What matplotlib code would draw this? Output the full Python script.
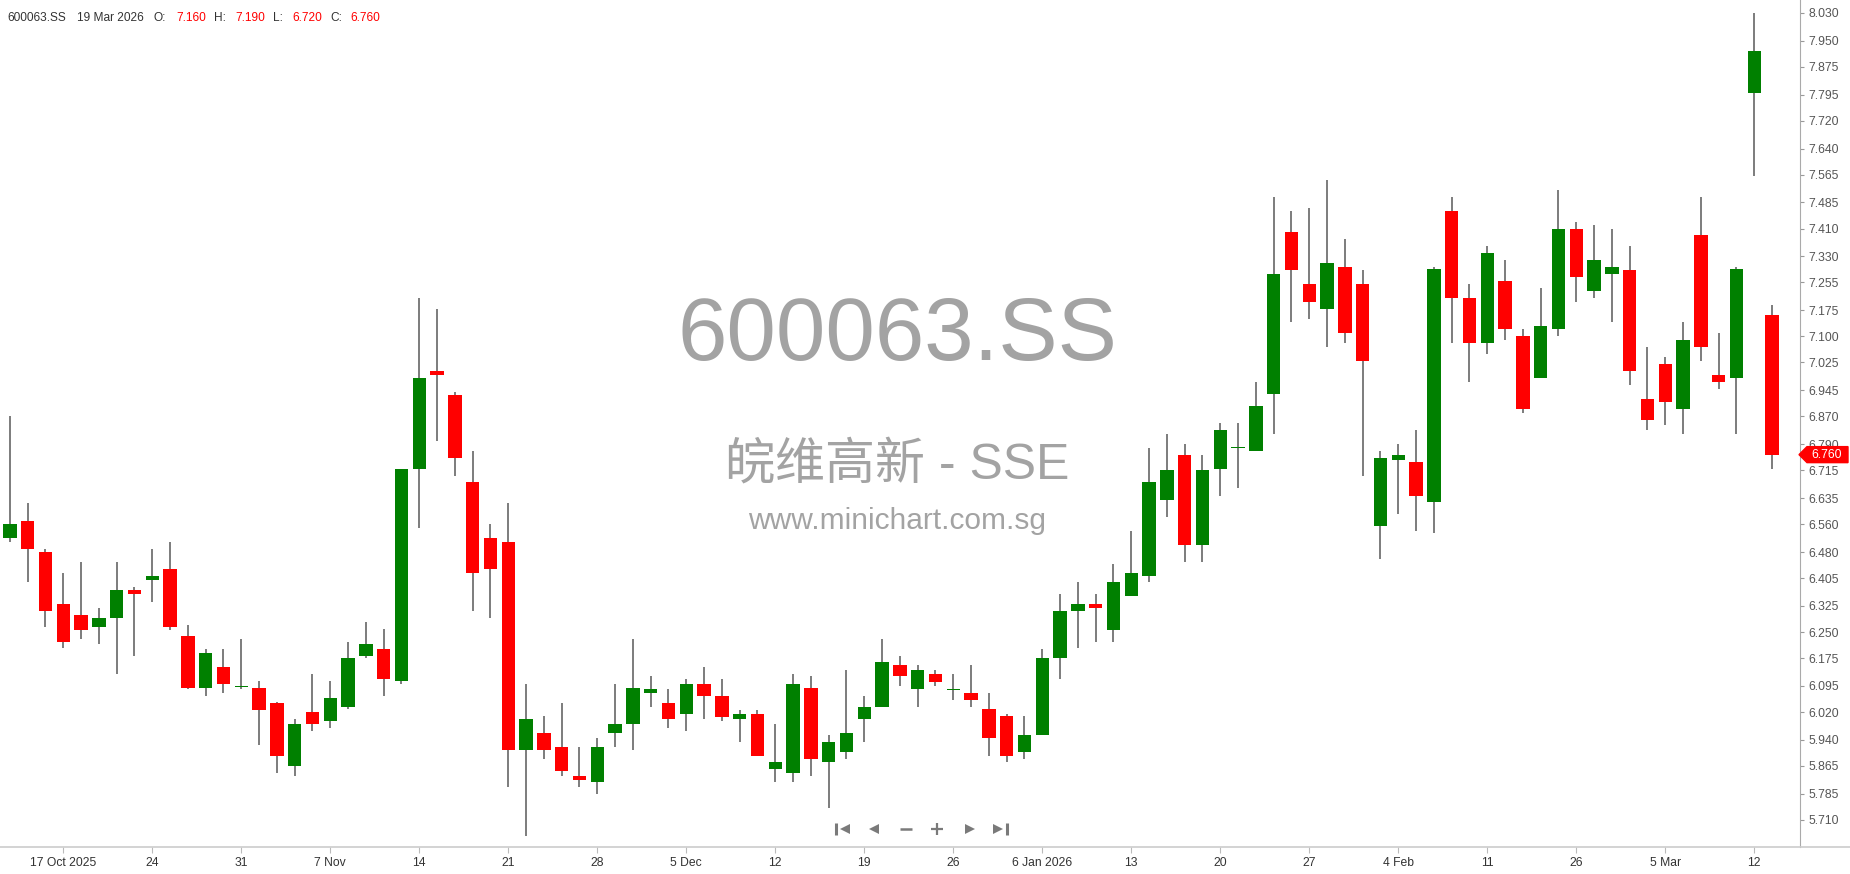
import numpy as np
import pandas as pd
import matplotlib
matplotlib.use('Agg')
import matplotlib.pyplot as plt
import matplotlib.transforms as mtransforms
from matplotlib.patches import Polygon
from matplotlib.lines import Line2D


symbol = '600063.SS'
name_cn = '皖维高新 - SSE'
site = 'www.minichart.com.sg'

# trading calendar: weekdays between these, minus the closed days
first_day = '2025-10-14'
last_day = '2026-03-19'
closed_days = ['2026-01-01', '2026-01-02', '2026-01-30',
               '2026-02-16', '2026-02-17', '2026-02-18', '2026-02-19',
               '2026-02-20', '2026-02-23',
               '2026-03-13', '2026-03-16', '2026-03-17', '2026-03-18']

opens = [6.52, 6.57, 6.48, 6.33, 6.30, 6.265, 6.29, 6.37, 6.40, 6.43,
         6.24, 6.09, 6.15, 6.092, 6.09, 6.045, 5.865, 6.02, 5.995, 6.035,
         6.18, 6.20, 6.11, 6.72, 7.00, 6.93, 6.68, 6.52, 6.51, 5.91,
         5.96, 5.92, 5.835, 5.82, 5.96, 5.985, 6.075, 6.045, 6.015, 6.10,
         6.065, 6.00, 6.015, 5.855, 5.845, 6.09, 5.875, 5.905, 6.00, 6.035,
         6.155, 6.085, 6.13, 6.083, 6.075, 6.03, 6.01, 5.905, 5.955, 6.175,
         6.31, 6.33, 6.255, 6.355, 6.41, 6.63, 6.76, 6.50, 6.72, 6.778,
         6.77, 6.935, 7.40, 7.25, 7.18, 7.30, 7.25, 6.555, 6.745, 6.74,
         6.625, 7.46, 7.21, 7.08, 7.26, 7.10, 6.98, 7.12, 7.41, 7.23,
         7.28, 7.29, 6.92, 7.02, 6.89, 7.39, 6.99, 6.98, 7.80, 7.16]

highs = [6.87, 6.62, 6.49, 6.42, 6.45, 6.32, 6.45, 6.38, 6.49, 6.51,
         6.27, 6.20, 6.20, 6.23, 6.11, 6.05, 6.00, 6.13, 6.11, 6.22,
         6.28, 6.26, 6.72, 7.21, 7.18, 6.94, 6.77, 6.56, 6.62, 6.10,
         6.01, 6.045, 5.92, 5.945, 6.10, 6.23, 6.125, 6.085, 6.115, 6.15,
         6.115, 6.025, 6.025, 5.985, 6.13, 6.125, 5.955, 6.14, 6.065, 6.23,
         6.18, 6.155, 6.14, 6.13, 6.155, 6.075, 6.015, 6.01, 6.20, 6.36,
         6.395, 6.36, 6.445, 6.54, 6.78, 6.82, 6.79, 6.76, 6.85, 6.85,
         6.97, 7.50, 7.46, 7.47, 7.55, 7.38, 7.29, 6.77, 6.79, 6.83,
         7.30, 7.50, 7.25, 7.36, 7.32, 7.12, 7.24, 7.52, 7.43, 7.42,
         7.41, 7.36, 7.07, 7.04, 7.14, 7.50, 7.11, 7.30, 8.03, 7.19]

lows = [6.51, 6.395, 6.265, 6.205, 6.23, 6.215, 6.13, 6.18, 6.335, 6.255,
        6.085, 6.065, 6.075, 6.085, 5.925, 5.845, 5.835, 5.965, 5.975, 6.03,
        6.175, 6.065, 6.10, 6.55, 6.80, 6.70, 6.31, 6.29, 5.805, 5.665,
        5.885, 5.835, 5.805, 5.785, 5.92, 5.91, 6.035, 5.975, 5.965, 6.00,
        5.995, 5.935, 5.895, 5.82, 5.82, 5.835, 5.745, 5.885, 5.935, 6.035,
        6.095, 6.035, 6.095, 6.055, 6.035, 5.895, 5.875, 5.885, 5.955, 6.115,
        6.205, 6.22, 6.22, 6.355, 6.395, 6.58, 6.45, 6.45, 6.64, 6.665,
        6.77, 6.82, 7.14, 7.15, 7.07, 7.08, 6.70, 6.46, 6.59, 6.54,
        6.535, 7.08, 6.97, 7.05, 7.09, 6.88, 6.98, 7.10, 7.20, 7.21,
        7.14, 6.96, 6.83, 6.845, 6.82, 7.03, 6.95, 6.82, 7.56, 6.72]

closes = [6.56, 6.49, 6.31, 6.22, 6.255, 6.29, 6.37, 6.36, 6.41, 6.265,
          6.09, 6.19, 6.10, 6.095, 6.025, 5.895, 5.985, 5.985, 6.06, 6.175,
          6.215, 6.115, 6.72, 6.98, 6.99, 6.75, 6.42, 6.43, 5.91, 6.00,
          5.91, 5.85, 5.825, 5.92, 5.985, 6.09, 6.085, 6.00, 6.10, 6.065,
          6.005, 6.015, 5.895, 5.875, 6.10, 5.885, 5.935, 5.96, 6.035, 6.165,
          6.125, 6.14, 6.105, 6.087, 6.055, 5.945, 5.895, 5.955, 6.175, 6.31,
          6.33, 6.32, 6.395, 6.42, 6.68, 6.715, 6.50, 6.715, 6.83, 6.782,
          6.90, 7.28, 7.29, 7.20, 7.31, 7.11, 7.03, 6.75, 6.76, 6.64,
          7.295, 7.21, 7.08, 7.34, 7.12, 6.89, 7.13, 7.41, 7.27, 7.32,
          7.30, 7.00, 6.86, 6.91, 7.09, 7.07, 6.97, 7.295, 7.92, 6.76]

price_labels = ['5.710', '5.785', '5.865', '5.940', '6.020', '6.095', '6.175',
                '6.250', '6.325', '6.405', '6.480', '6.560', '6.635', '6.715',
                '6.790', '6.870', '6.945', '7.025', '7.100', '7.175', '7.255',
                '7.330', '7.410', '7.485', '7.565', '7.640', '7.720', '7.795',
                '7.875', '7.950', '8.030']

W, H = 1850, 874
UP = '#008000'
DOWN = '#ff0000'
FONT = 'Liberation Sans'


def main():
  dates = pd.bdate_range(first_day, last_day)
  dates = dates[~dates.isin(pd.to_datetime(closed_days))]

  o = np.array(opens)
  h = np.array(highs)
  l = np.array(lows)
  c = np.array(closes)
  x = np.arange(len(dates))

  fig = plt.figure(figsize=(W / 100, H / 100), dpi=100)
  fig.patch.set_facecolor('white')
  ax = fig.add_axes([0, 27 / H, 1800 / W, 847 / H])
  ax.set_xlim(-0.556, 100.57)
  ax.set_ylim(5.632, 8.067)

  ####################################
  # candles
  ax.vlines(x, l, h, color='#666666', linewidth=1.2, zorder=2)
  up = c >= o
  bottom = np.minimum(o, c)
  height = np.maximum(np.abs(c - o), 0.004)
  ax.bar(x, height, bottom=bottom, width=0.75,
         color=np.where(up, UP, DOWN), edgecolor='none', zorder=3)

  ####################################
  # watermark
  ax.text(897 / W, 1 - 337 / H, symbol, transform=fig.transFigure,
          ha='center', va='center', fontsize=64, color='#a3a3a3',
          family=FONT, zorder=1)
  ax.text(897 / W, 1 - 465 / H, name_cn, transform=fig.transFigure,
          ha='center', va='center', fontsize=36, color='#a3a3a3',
          family=[FONT, 'Noto Sans CJK SC'], zorder=1)
  ax.text(897 / W, 1 - 521 / H, site, transform=fig.transFigure,
          ha='center', va='center', fontsize=21.5, color='#a3a3a3',
          family=FONT, zorder=1)

  ####################################
  # axes
  for side in ['top', 'left', 'bottom']:
    ax.spines[side].set_visible(False)
  ax.spines['right'].set_color('#aaaaaa')
  fig.add_artist(Line2D([0, 1], [27 / H, 27 / H], color='#cccccc',
                        linewidth=1.2, transform=fig.transFigure))

  ax.yaxis.tick_right()
  ax.set_yticks([float(s) for s in price_labels])
  ax.set_yticklabels(price_labels)
  ax.tick_params(axis='y', direction='out', length=3, width=0.8,
                 color='#999999', labelcolor='#555555', labelsize=8.8, pad=3)

  tick_idx = x[3::5]
  tick_text = []
  prev = None
  for i in tick_idx:
    d = dates[i]
    if prev is None or d.year != prev.year:
      tick_text.append('{} {} {}'.format(d.day, d.strftime('%b'), d.year))
    elif d.month != prev.month:
      tick_text.append('{} {}'.format(d.day, d.strftime('%b')))
    else:
      tick_text.append(str(d.day))
    prev = d
  ax.set_xticks(tick_idx)
  ax.set_xticklabels(tick_text)
  ax.tick_params(axis='x', direction='out', length=4, width=0.8,
                 color='#bbbbbb', labelcolor='#333333', labelsize=8.7, pad=3)
  for t in ax.get_xticklabels() + ax.get_yticklabels():
    t.set_family(FONT)

  ####################################
  # last price tag
  last = c[-1]
  dy = 8 / 347.8
  tr = mtransforms.blended_transform_factory(fig.transFigure, ax.transData)
  tag = Polygon([(1799 / W, last), (1807 / W, last + dy), (1848 / W, last + dy),
                 (1848 / W, last - dy), (1807 / W, last - dy)],
                closed=True, facecolor=DOWN, edgecolor=DOWN, transform=tr,
                clip_on=False, zorder=5)
  ax.add_patch(tag)
  ax.text(1827 / W, last, '{:.3f}'.format(last), transform=tr, ha='center',
          va='center', color='white', fontsize=8.8, family=FONT,
          clip_on=False, zorder=6)

  ####################################
  # header
  hdr_y = 1 - 18 / H
  pieces = [(symbol, 7, '#333333'),
            ('{} {} {}'.format(dates[-1].day, dates[-1].strftime('%b'),
                               dates[-1].year), 77, '#333333'),
            ('O:', 154, '#333333'), ('{:.3f}'.format(o[-1]), 176, DOWN),
            ('H:', 214, '#333333'), ('{:.3f}'.format(h[-1]), 235, DOWN),
            ('L:', 273, '#333333'), ('{:.3f}'.format(l[-1]), 292, DOWN),
            ('C:', 330, '#333333'), ('{:.3f}'.format(c[-1]), 350, DOWN)]
  for txt, px, col in pieces:
    fig.text(px / W, hdr_y, txt, ha='left', va='center', color=col,
             fontsize=8.6, family=FONT)

  ####################################
  # navigation buttons
  icon_y = 1 - 829 / H
  grey = '#7a7a7a'

  def mark(px, m, size, lw=0):
    fig.add_artist(Line2D([px / W], [icon_y], marker=m, markersize=size,
                          markeredgewidth=lw, color=grey, linestyle='none',
                          transform=fig.transFigure))

  mark(836, '|', 9, 2.2)
  mark(845, '<', 7.5)
  mark(874, '<', 7.5)
  mark(905.5, '_', 9, 1.8)
  mark(937, '+', 9, 1.6)
  mark(970, '>', 7.5)
  mark(998, '>', 7.5)
  mark(1007, '|', 9, 2.2)

  fig.savefig('out.png', dpi=100, facecolor='white')


if __name__ == '__main__':
  main()
